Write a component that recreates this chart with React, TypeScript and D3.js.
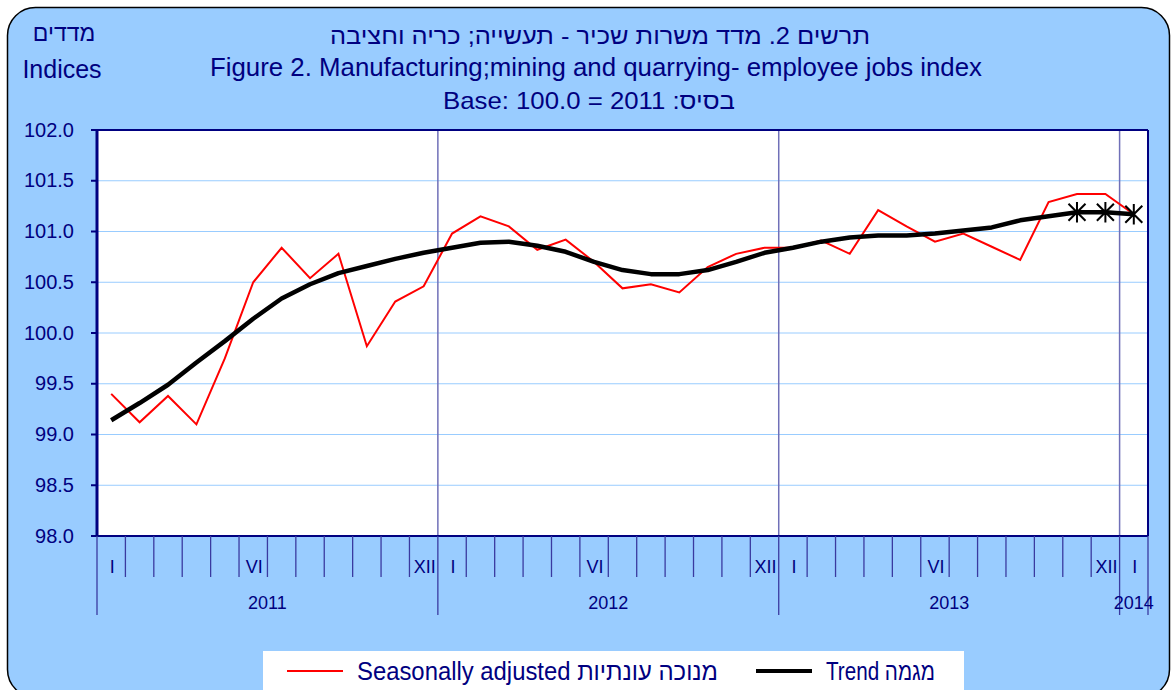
import React from "react";
import * as d3 from "d3";

// values (monthly, Jan 2011 .. Jan 2014)
const months = [
  "I", "II", "III", "IV", "V", "VI", "VII", "VIII", "IX", "X", "XI", "XII",
  "I", "II", "III", "IV", "V", "VI", "VII", "VIII", "IX", "X", "XI", "XII",
  "I", "II", "III", "IV", "V", "VI", "VII", "VIII", "IX", "X", "XI", "XII",
  "I",
];
const years = ["2011", "2012", "2013", "2014"];
const shownMonthLabels = ["I", "VI", "XII"];

const seasonallyAdjusted = [
  99.4, 99.12, 99.38, 99.1, 99.75, 100.5, 100.84, 100.54, 100.78, 99.87, 100.31, 100.46,
  100.98, 101.15, 101.05, 100.82, 100.92, 100.7, 100.44, 100.48, 100.4, 100.65, 100.78, 100.84,
  100.84, 100.91, 100.78, 101.21, 101.05, 100.9, 100.98, 100.85, 100.72, 101.29, 101.37, 101.37,
  101.17,
];
const trend = [
  99.14, 99.31, 99.49, 99.71, 99.92, 100.14, 100.34, 100.48, 100.59, 100.66, 100.73, 100.79,
  100.84, 100.89, 100.9, 100.86, 100.8, 100.7, 100.62, 100.58, 100.58, 100.62, 100.7, 100.79,
  100.84, 100.9, 100.94, 100.96, 100.96, 100.98, 101.01, 101.04, 101.11, 101.15, 101.19, 101.19,
  101.17,
];
const yTicks = [98, 98.5, 99, 99.5, 100, 100.5, 101, 101.5, 102];

const NAVY = "#000080";
const FONT = "'Liberation Sans', Arial, sans-serif";

const App = () => {
  const W = 1173;
  const H = 690;
  const left = 97;
  const right = 1148;
  const top = 130;
  const bottom = 536;

  const idx = months.map((_, i) => i);
  const x = d3.scaleBand<number>().domain(idx).range([left, right]).padding(0);
  const y = d3.scaleLinear().domain([98, 102]).range([bottom, top]);
  const cx = (i: number) => (x(i) as number) + x.bandwidth() / 2;

  const lineGen = d3
    .line<number>()
    .x((_, i) => cx(i))
    .y((v) => y(v));

  // year of each month
  const yearOf = (i: number) => Math.floor(i / 12);
  const yearStarts = idx.filter((i) => i % 12 === 0);

  const star = (px: number, py: number, r: number) =>
    `M${px - r},${py - r}L${px + r},${py + r}M${px - r},${py + r}L${px + r},${py - r}M${px},${py - r * 1.2}L${px},${py + r * 1.2}`;

  return (
    <svg
      width={W}
      height={H}
      style={{ position: "absolute", left: 0, top: 0, fontFamily: FONT }}
    >
      <rect x={0} y={0} width={W} height={H} fill="#ffffff" />
      <rect
        x={7.5}
        y={7.5}
        width={1162}
        height={690}
        rx={28}
        fill="#99CCFF"
        stroke="#000000"
        strokeWidth={1.5}
      />

      {/* titles */}
      <text x={600} y={44} fill={NAVY} fontSize={24} textAnchor="middle" direction="rtl" textLength={540} lengthAdjust="spacingAndGlyphs">
        תרשים 2. מדד משרות שכיר  - תעשייה; כריה וחציבה
      </text>
      <text x={596} y={76} fill={NAVY} fontSize={25} textAnchor="middle" textLength={772} lengthAdjust="spacingAndGlyphs">
        Figure 2. Manufacturing;mining and quarrying- employee jobs index
      </text>
      <text x={589} y={109} fill={NAVY} fontSize={24} textAnchor="middle" textLength={292} lengthAdjust="spacingAndGlyphs">
        Base: 100.0 = 2011 :בסיס
      </text>
      <text x={64} y={41} fill={NAVY} fontSize={23} textAnchor="middle" direction="rtl">
        מדדים
      </text>
      <text x={62} y={78} fill={NAVY} fontSize={25} textAnchor="middle">
        Indices
      </text>

      {/* plot area */}
      <rect x={left} y={top} width={right - left} height={bottom - top} fill="#ffffff" />
      {yTicks.map((t) => (
        <line key={"g" + t} x1={left} x2={right} y1={y(t)} y2={y(t)} stroke="#99CCFF" strokeWidth={1} />
      ))}
      {yearStarts
        .filter((i) => i > 0)
        .map((i) => (
          <line
            key={"ys" + i}
            x1={x(i) as number}
            x2={x(i) as number}
            y1={top}
            y2={bottom}
            stroke="#7070B8"
            strokeWidth={1.5}
          />
        ))}
      <line x1={left} x2={right} y1={top} y2={top} stroke={NAVY} strokeWidth={2} />
      <line x1={right} x2={right} y1={top} y2={bottom} stroke={NAVY} strokeWidth={2} />

      {/* y axis */}
      <line x1={left} x2={left} y1={top} y2={bottom} stroke={NAVY} strokeWidth={3} />
      {yTicks.map((t) => (
        <g key={"t" + t}>
          <line x1={left - 6} x2={left} y1={y(t)} y2={y(t)} stroke={NAVY} strokeWidth={2} />
          <text x={74} y={y(t) + 6.5} fill={NAVY} fontSize={20} textAnchor="end">
            {t.toFixed(1)}
          </text>
        </g>
      ))}

      {/* x axis */}
      <line x1={left} x2={right} y1={bottom} y2={bottom} stroke={NAVY} strokeWidth={2} />
      {idx.map((i) => (
        <line
          key={"m" + i}
          x1={x(i) as number}
          x2={x(i) as number}
          y1={bottom}
          y2={i % 12 === 0 ? 615 : 577}
          stroke="#3A3AA0"
          strokeWidth={1.3}
        />
      ))}
      <line x1={right} x2={right} y1={bottom} y2={615} stroke="#3A3AA0" strokeWidth={1.3} />
      {idx.map((i) =>
        shownMonthLabels.includes(months[i]) ? (
          <text key={"ml" + i} x={cx(i) + 1} y={573} fill={NAVY} fontSize={18} textAnchor="middle">
            {months[i]}
          </text>
        ) : null
      )}
      {years.map((yr, k) => {
        const members = idx.filter((i) => yearOf(i) === k);
        const x0 = x(members[0]) as number;
        const x1 = (x(members[members.length - 1]) as number) + x.bandwidth();
        return (
          <text key={yr} x={(x0 + x1) / 2} y={609} fill={NAVY} fontSize={18} textAnchor="middle">
            {yr}
          </text>
        );
      })}

      {/* series */}
      <path d={lineGen(seasonallyAdjusted) || ""} fill="none" stroke="#FF0000" strokeWidth={2} />
      <path d={lineGen(trend) || ""} fill="none" stroke="#000000" strokeWidth={4.5} strokeLinejoin="round" />
      {trend.slice(-3).map((v, k) => {
        const i = trend.length - 3 + k;
        return <path key={"s" + i} d={star(cx(i), y(v), 8.5)} stroke="#000000" strokeWidth={2} fill="none" />;
      })}

      {/* legend */}
      <rect x={263} y={651} width={701} height={45} fill="#ffffff" />
      <line x1={287} x2={343} y1={671} y2={671} stroke="#FF0000" strokeWidth={2} />
      <text x={357} y={680} fill={NAVY} fontSize={25} textLength={361} lengthAdjust="spacingAndGlyphs">
        Seasonally adjusted מנוכה עונתיות
      </text>
      <line x1={756} x2={812} y1={671} y2={671} stroke="#000000" strokeWidth={4} />
      <text x={826} y={680} fill={NAVY} fontSize={25} textLength={109} lengthAdjust="spacingAndGlyphs">
        Trend מגמה
      </text>
    </svg>
  );
};

export default App;
